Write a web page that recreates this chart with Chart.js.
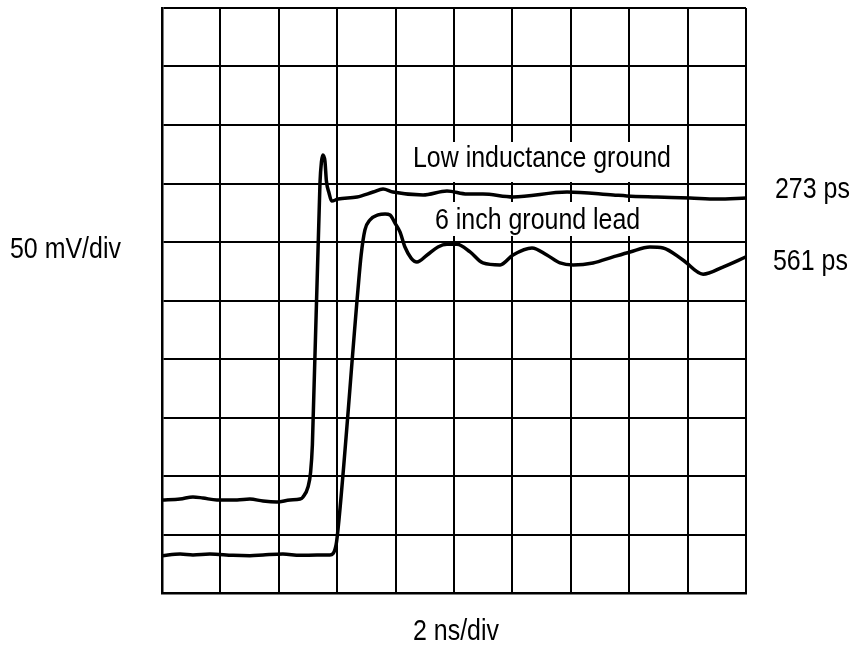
<!DOCTYPE html>
<html>
<head>
<meta charset="utf-8">
<script src="https://cdn.jsdelivr.net/npm/chart.js@4"></script>
<style>
    body { margin: 0; background: #fff; }
    #wrap { width: 855px; height: 645px; }
</style>
</head>
<body>
<div id="wrap"><canvas id="scopeChart" width="855" height="645"></canvas></div>
<script>
// time in ns (2 ns/div), amplitude in mV (50 mV/div)
const lowIndTime = [0, 0.62, 1.06, 1.40, 1.88, 2.57, 3.01, 3.46, 3.94, 4.38, 4.73, 4.83, 5.00, 5.09, 5.15, 5.41, 5.46, 5.51, 5.58, 5.63, 5.72, 5.81, 6.03, 6.68, 7.23, 7.57, 7.91, 8.94, 9.76, 10.45, 10.99, 12.02, 13.87, 15.45, 15.92, 16.95, 18.08, 19.01, 20];
const lowIndVolt = [79.5, 80.3, 82.1, 81.2, 79.5, 79.5, 80.3, 78.6, 77.8, 79.5, 80.3, 82.1, 90.6, 103.4, 126.5, 350.4, 368.4, 374.4, 369.2, 352.1, 341.9, 335.0, 336.7, 338.5, 342.7, 345.3, 342.7, 340.2, 343.6, 341.0, 341.0, 338.5, 342.7, 340.2, 339.4, 338.5, 337.6, 336.7, 337.6];

const leadTime = [0, 0.62, 1.06, 1.64, 2.43, 3.01, 3.46, 4.14, 4.73, 5.31, 5.75, 5.96, 6.06, 6.71, 6.82, 6.95, 7.12, 7.40, 7.64, 7.81, 7.98, 8.15, 8.32, 8.53, 8.73, 9.08, 9.45, 9.76, 10.10, 10.55, 10.99, 11.58, 12.02, 12.67, 13.18, 13.63, 14.08, 14.76, 15.45, 16.03, 16.71, 17.16, 17.84, 18.53, 19.21, 20];
const leadVolt = [31.9, 33.3, 32.5, 33.3, 32.2, 31.9, 32.5, 33.3, 32.2, 32.5, 32.5, 41.0, 62.4, 259.0, 288.9, 310.3, 318.8, 323.1, 324.0, 323.1, 316.2, 308.6, 295.7, 286.3, 282.9, 288.9, 295.7, 298.0, 298.0, 291.5, 282.1, 280.4, 288.9, 294.9, 288.9, 282.1, 280.4, 282.1, 287.3, 291.5, 295.7, 294.9, 284.6, 272.5, 278.6, 287.3];

const traceNames = ['Low inductance ground', '6 inch ground lead'];
const riseTimes = ['273 ps', '561 ps'];
const yScaleText = '50 mV/div';
const xScaleText = '2 ns/div';

const toPoints = (xs, ys) => xs.map((x, i) => ({ x: x, y: ys[i] }));

// narrow-ish font like the scope printout
function drawNarrowText(ctx, text, x, y) {
    ctx.save();
    ctx.translate(x, y);
    ctx.scale(0.86, 1);
    ctx.fillText(text, 0, 0);
    ctx.restore();
}

const labelPlugin = {
    id: 'scopeLabels',
    beforeDatasetsDraw(chart) {
        const ctx = chart.ctx;
        const a = chart.chartArea;
        // white patches behind the trace names
        ctx.save();
        ctx.fillStyle = '#fff';
        ctx.fillRect(a.left + 243, a.top + 134, 278, 40);
        ctx.fillRect(a.left + 268, a.top + 194, 220, 34);
        ctx.restore();
    },
    afterDatasetsDraw(chart) {
        const ctx = chart.ctx;
        const a = chart.chartArea;
        ctx.save();
        ctx.fillStyle = '#000';
        ctx.font = '29px "Liberation Sans", Arial, sans-serif';
        ctx.textBaseline = 'alphabetic';
        drawNarrowText(ctx, traceNames[0], a.left + 251, a.top + 159);
        drawNarrowText(ctx, traceNames[1], a.left + 273, a.top + 221);
        drawNarrowText(ctx, riseTimes[0], a.right + 29, a.top + 190);
        drawNarrowText(ctx, riseTimes[1], a.right + 27, a.top + 262);
        drawNarrowText(ctx, yScaleText, 10, a.top + 250);
        drawNarrowText(ctx, xScaleText, a.left + 251, a.bottom + 47);
        ctx.restore();
    }
};

const traceStyle = {
    borderColor: '#000',
    borderWidth: 3.5,
    pointRadius: 0,
    showLine: true,
    fill: false,
    cubicInterpolationMode: 'monotone'
};

const ctx = document.getElementById('scopeChart').getContext('2d');

const scopeChart = new Chart(ctx, {
    type: 'scatter',
    data: {
        datasets: [
            Object.assign({ label: traceNames[0], data: toPoints(lowIndTime, lowIndVolt) }, traceStyle),
            Object.assign({ label: traceNames[1], data: toPoints(leadTime, leadVolt) }, traceStyle)
        ]
    },
    options: {
        responsive: false,
        animation: false,
        layout: {
            padding: { left: 162, right: 109, top: 8, bottom: 52 }
        },
        scales: {
            x: {
                type: 'linear',
                min: 0,
                max: 20,
                ticks: { display: false, stepSize: 2 },
                grid: { color: '#000', lineWidth: 2, drawTicks: false, tickLength: 0 },
                border: { color: '#000', width: 2.5 }
            },
            y: {
                type: 'linear',
                min: 0,
                max: 500,
                ticks: { display: false, stepSize: 50 },
                grid: { color: '#000', lineWidth: 2, drawTicks: false, tickLength: 0 },
                border: { color: '#000', width: 2.5 }
            }
        },
        plugins: {
            legend: { display: false },
            tooltip: { enabled: false }
        }
    },
    plugins: [labelPlugin]
});
</script>
</body>
</html>
